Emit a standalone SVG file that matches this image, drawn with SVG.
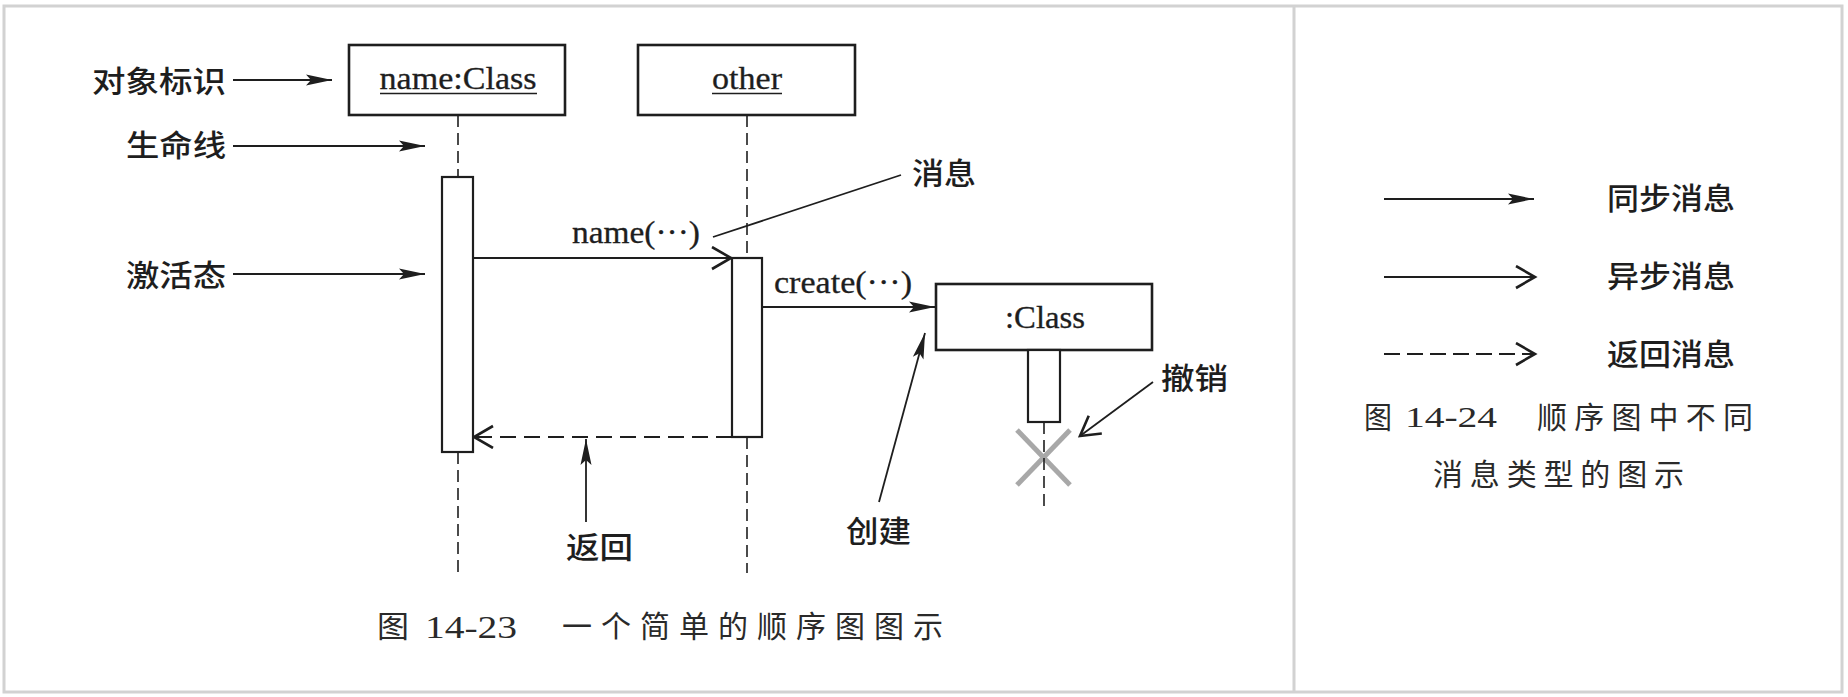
<svg xmlns="http://www.w3.org/2000/svg" width="1848" height="697" viewBox="0 0 1848 697">
<style>
.frame{fill:none;stroke:#d2d2d2;stroke-width:3}
.box{fill:#fff;stroke:#1e1e1e;stroke-width:2.6}
.act{fill:#fff;stroke:#1e1e1e;stroke-width:2.2}
.life{stroke:#1e1e1e;stroke-width:1.6;stroke-dasharray:12 6;fill:none}
.ln{stroke:#1e1e1e;stroke-width:1.8;fill:none}
.dash{stroke:#1e1e1e;stroke-width:1.8;fill:none;stroke-dasharray:16 8}
.ul{stroke:#1e1e1e;stroke-width:1.6}
.lat{font-family:"Liberation Serif","Times New Roman",serif;font-size:31px;fill:#1e1e1e;stroke:#1e1e1e;stroke-width:0.3}
.cjk{font-family:"Noto Sans CJK SC","Noto Sans CJK JP",sans-serif;font-size:30px;font-weight:500;fill:#1e1e1e}
.cap{font-family:"Noto Sans CJK SC","Noto Sans CJK JP",sans-serif;font-size:30px;font-weight:400;fill:#2a2a2a}
.capn{font-family:"Liberation Serif","Times New Roman",serif;font-size:32px;fill:#2a2a2a}
.xmark{stroke:#a8a8a8;stroke-width:5;stroke-linecap:butt}
</style>
<defs>
<marker id="filled" markerUnits="userSpaceOnUse" markerWidth="27" markerHeight="12" refX="26" refY="6" orient="auto" viewBox="0 0 27 12">
<path d="M0,0.5 L26,6 L0,11.5 L5,6 z" fill="#1e1e1e"/>
</marker>
<marker id="open" markerUnits="userSpaceOnUse" markerWidth="24" markerHeight="26" refX="21" refY="12" orient="auto" viewBox="0 0 24 26">
<path d="M2,1 L21,12 L2,23" fill="none" stroke="#1e1e1e" stroke-width="2.6"/>
</marker>
</defs>
<rect width="1848" height="697" fill="#fff"/>
<g id="frame">
<rect class="frame" x="4" y="6" width="1838" height="686"/>
<line class="frame" x1="1294" y1="6" x2="1294" y2="692"/>
</g>

<g id="connectors">
<line class="life" x1="458" y1="115" x2="458" y2="177"/>
<line class="life" x1="458" y1="452" x2="458" y2="573"/>
<line class="life" x1="747" y1="115" x2="747" y2="258"/>
<line class="life" x1="747" y1="437" x2="747" y2="573"/>
<line class="xmark" x1="1017" y1="430" x2="1070" y2="485"/>
<line class="xmark" x1="1017" y1="485" x2="1070" y2="430"/>
<line class="life" x1="1044" y1="422" x2="1044" y2="508"/>
<line class="ln" x1="233" y1="80" x2="332" y2="80" marker-end="url(#filled)"/>
<line class="ln" x1="233" y1="146" x2="425" y2="146" marker-end="url(#filled)"/>
<line class="ln" x1="233" y1="274" x2="425" y2="274" marker-end="url(#filled)"/>
<line class="ln" x1="713" y1="237" x2="901" y2="175"/>
<line class="ln" x1="879" y1="502" x2="925" y2="333" marker-end="url(#filled)"/>
<line class="ln" x1="1153" y1="382" x2="1080" y2="436" marker-end="url(#open)"/>
<line class="ln" x1="586" y1="522" x2="586" y2="439" marker-end="url(#filled)"/>
<line class="ln" x1="473" y1="258" x2="731" y2="258" marker-end="url(#open)"/>
<line class="ln" x1="762" y1="307" x2="935" y2="307" marker-end="url(#filled)"/>
<line class="dash" x1="732" y1="437" x2="474" y2="437" marker-end="url(#open)"/>
<line class="ln" x1="1384" y1="199" x2="1534" y2="199" marker-end="url(#filled)"/>
<line class="ln" x1="1384" y1="277" x2="1535" y2="277" marker-end="url(#open)"/>
<line class="dash" x1="1384" y1="354" x2="1535" y2="354" style="stroke-dasharray:16 7" marker-end="url(#open)"/>
</g>

<g id="node-nameClass">
<rect class="box" x="349" y="45" width="216" height="70"/>
<text class="lat" x="458" y="89" text-anchor="middle" textLength="157" lengthAdjust="spacingAndGlyphs">name:Class</text>
<line class="ul" x1="380" y1="93.5" x2="537" y2="93.5"/>
<rect class="act" x="442" y="177" width="31" height="275"/>
</g>

<g id="node-other">
<rect class="box" x="638" y="45" width="217" height="70"/>
<text class="lat" x="747" y="89" text-anchor="middle" textLength="70" lengthAdjust="spacingAndGlyphs">other</text>
<line class="ul" x1="712" y1="93.5" x2="782" y2="93.5"/>
<rect class="act" x="732" y="258" width="30" height="179"/>
</g>

<g id="node-class">
<rect class="box" x="936" y="284" width="216" height="66"/>
<text class="lat" x="1045" y="328" text-anchor="middle" textLength="80" lengthAdjust="spacingAndGlyphs">:Class</text>
<rect class="act" x="1028" y="350" width="32" height="72"/>
</g>

<g id="labels">
<text class="cjk" x="92" y="92" textLength="134" lengthAdjust="spacingAndGlyphs">对象标识</text>
<text class="cjk" x="126" y="156" textLength="100" lengthAdjust="spacingAndGlyphs">生命线</text>
<text class="cjk" x="126" y="286" textLength="100" lengthAdjust="spacingAndGlyphs">激活态</text>
<text class="cjk" x="912" y="184" textLength="64" lengthAdjust="spacingAndGlyphs">消息</text>
<text class="cjk" x="846" y="542" textLength="65" lengthAdjust="spacingAndGlyphs">创建</text>
<text class="cjk" x="1161" y="389" textLength="67" lengthAdjust="spacingAndGlyphs">撤销</text>
<text class="cjk" x="566" y="558" textLength="67" lengthAdjust="spacingAndGlyphs">返回</text>
<text class="lat" x="572" y="243" textLength="128" lengthAdjust="spacingAndGlyphs">name(···)</text>
<text class="lat" x="774" y="293" textLength="138" lengthAdjust="spacingAndGlyphs">create(···)</text>
</g>

<g id="caption-main">
<text class="cap" y="637"><tspan x="377" textLength="32" lengthAdjust="spacingAndGlyphs">图</tspan><tspan class="capn" x="415" y="638" textLength="112" lengthAdjust="spacingAndGlyphs"> 14-23 </tspan><tspan x="562" y="637" textLength="381" lengthAdjust="spacing">一个简单的顺序图图示</tspan></text>
</g>

<g id="legend">
<text class="cjk" x="1607" y="209" textLength="128" lengthAdjust="spacingAndGlyphs">同步消息</text>
<text class="cjk" x="1607" y="287" textLength="128" lengthAdjust="spacingAndGlyphs">异步消息</text>
<text class="cjk" x="1607" y="365" textLength="128" lengthAdjust="spacingAndGlyphs">返回消息</text>
<text class="cap" y="428"><tspan x="1364" textLength="28" lengthAdjust="spacingAndGlyphs">图</tspan><tspan class="capn" x="1395" y="427" style="font-size:30px" textLength="112" lengthAdjust="spacingAndGlyphs"> 14-24 </tspan><tspan x="1537" y="428" textLength="216" lengthAdjust="spacing">顺序图中不同</tspan></text>
<text class="cap" x="1433" y="485" textLength="251" lengthAdjust="spacing">消息类型的图示</text>
</g>
</svg>
